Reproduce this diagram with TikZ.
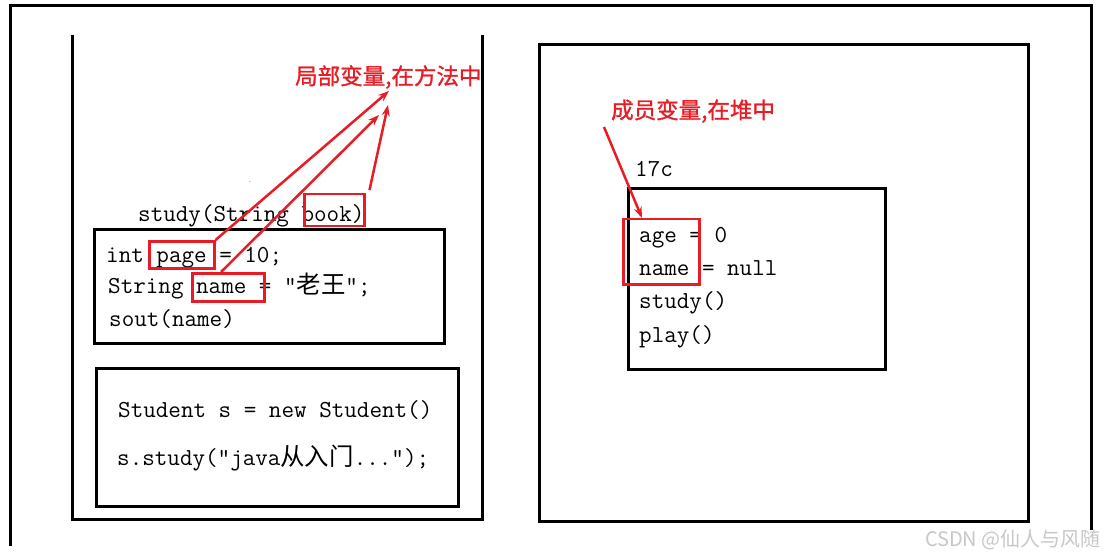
\documentclass[tikz,border=0pt]{standalone}
\usepackage{fontspec}
\usetikzlibrary{arrows.meta,calc}
\newfontfamily\cjk{Noto Sans CJK SC}
\newfontfamily\cjkred[FakeBold=1.2]{Noto Sans CJK SC}
\definecolor{hlred}{RGB}{232,28,36}
\definecolor{wm}{RGB}{200,200,200}
\begin{document}
\begin{tikzpicture}[x=1pt,y=-1pt,
  frame/.style={line width=3pt, line cap=rect},
  codebox/.style={draw, line width=3.2pt, anchor=north west, inner sep=0pt},
  hl/.style={draw=hlred, line width=2.5pt, anchor=north west, inner sep=0pt},
  code/.style={anchor=base west, inner sep=0pt, font=\ttfamily\fontsize{24.4}{26}\selectfont},
  lab/.style={anchor=west, inner sep=0pt, text=hlred, font=\cjkred\fontsize{22.5}{24}\selectfont},
  arr/.style={draw=hlred, line width=2.5pt, -{Stealth[length=11pt,width=8pt]}}]
\useasboundingbox (0,0) rectangle (1104,559);
\fill[white] (0,0) rectangle (1104,559);
% outer frame
\draw[frame] (10,544) -- (10,6) -- (1091,6) -- (1091,528);
% stack frame
\draw[frame] (72,37) -- (72,519) -- (482,519) -- (482,37);
% heap frame
\node[codebox, minimum width=489pt, minimum height=477pt] (heap) at (538,43) {};
% method box
\node[codebox, minimum width=350pt, minimum height=114pt] (meth) at (93,228) {};
% main box
\node[codebox, minimum width=362pt, minimum height=138pt] (mainb) at (95,367) {};
% object box
\node[codebox, minimum width=257pt, minimum height=181pt] (obj) at (627,187) {};

% code texts
\node[code] (sig) at (138,222) {study(String book)};
\node[inner sep=0pt, font=\fontsize{8}{8}\selectfont] (dot) at (250,182) {.};
\node[code] (l1) at (106,262) {int page = 10;};
\node[code] (l2) at (108,293) {String name = ”{\cjk 老王}”;};
\node[code] (l3) at (109,326) {sout(name)};
\node[code] (m1) at (118,417) {Student s = new Student()};
\node[code] (m2) at (117,465) {s.study(”java{\cjk 从入门}...”);};
\node[code] (addr) at (635,177) {17c};
\node[code] (o1) at (639,242) {age = 0};
\node[code] (o2) at (639,275) {name = null};
\node[code] (o3) at (639,308) {study()};
\node[code] (o4) at (639,342) {play()};

% highlight boxes
\node[hl, minimum width=60pt, minimum height=32pt] (book) at (303,193) {};
\node[hl, minimum width=65pt, minimum height=27pt] (page) at (148,240) {};
\node[hl, minimum width=72pt, minimum height=28pt] (nm) at (191,272) {};
\node[hl, minimum width=76pt, minimum height=65pt] (fld) at (622,218) {};

% labels
\node[lab] (lab1) at (295,77) {局部变量,在方法中};
\node[lab] (lab2) at (611,111) {成员变量,在堆中};
\node[anchor=east, inner sep=0pt, text=wm, font=\cjk\fontsize{20}{22}\selectfont] (wmk) at (1101,540) {CSDN @仙人与风随};

% arrows
\coordinate (t1) at (389,91);
\coordinate (t2) at (379,115);
\coordinate (t3) at (388,105);
\coordinate (s4) at (604,127);
\draw[arr] (page.north east) -- (t1);
\draw[arr] ($(nm.north west)+(30,0)$) -- (t2);
\draw[arr] ($(book.north east)+(4,-3)$) -- (t3);
\draw[arr] (s4) -- ($(fld.north west)+(20,0)$);
\end{tikzpicture}
\end{document}
